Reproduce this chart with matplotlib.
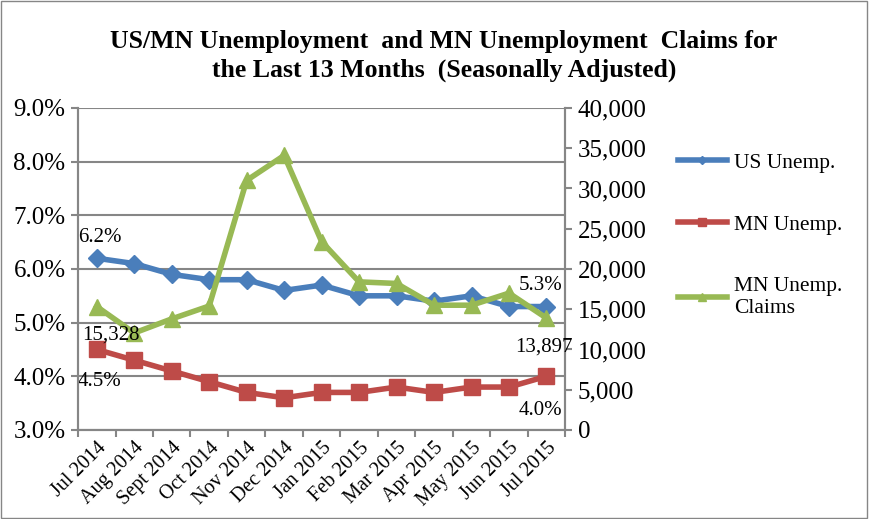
import numpy as np
from matplotlib import pyplot as plt

months = ["Jul 2014", "Aug 2014", "Sept 2014", "Oct 2014", "Nov 2014", "Dec 2014",
          "Jan 2015", "Feb 2015", "Mar 2015", "Apr 2015", "May 2015", "Jun 2015",
          "Jul 2015"]
us_unemp = [6.2, 6.1, 5.9, 5.8, 5.8, 5.6, 5.7, 5.5, 5.5, 5.4, 5.5, 5.3, 5.3]
mn_unemp = [4.5, 4.3, 4.1, 3.9, 3.7, 3.6, 3.7, 3.7, 3.8, 3.7, 3.8, 3.8, 4.0]
mn_claims = [15328, 12050, 13800, 15400, 31000, 34100, 23400, 18400, 18200,
             15500, 15500, 17000, 13897]

plt.rcParams['font.family'] = ['Liberation Serif', 'DejaVu Serif']

blue = "#4a7ebb"
red = "#be4b48"
green = "#98b954"
grid_c = "#868686"

fig = plt.figure(figsize=(8.69, 5.19), dpi=100)
fig.patches.append(plt.Rectangle((0.001, 0.001), 0.997, 0.997, transform=fig.transFigure,
                                 fill=False, edgecolor=grid_c, linewidth=1))
ax = fig.add_axes([0.0898, 0.1715, 0.5606, 0.6205])
ax2 = ax.twinx()

x = np.arange(len(months))
l1, = ax.plot(x, us_unemp, color=blue, linewidth=4, marker="D", markersize=9,
              label="US Unemp.", zorder=3)
l2, = ax.plot(x, mn_unemp, color=red, linewidth=4, marker="s", markersize=11,
              label="MN Unemp.", zorder=3)
l3, = ax2.plot(x, mn_claims, color=green, linewidth=4, marker="^", markersize=11,
               label="MN Unemp.\nClaims", zorder=3)

ax.set_xlim(-0.5, len(months) - 0.5)
ax.set_ylim(3.0, 9.0)
ax2.set_ylim(0, 40000)
ax.set_yticks(np.arange(3.0, 9.01, 1.0))
ax.set_yticklabels(["{:.1f}%".format(v) for v in np.arange(3.0, 9.01, 1.0)], fontsize=18)
ax2.set_yticks(np.arange(0, 40001, 5000))
ax2.set_yticklabels(["{:,}".format(v) for v in range(0, 40001, 5000)], fontsize=18)
ax.set_xticks(x)
ax.set_xticklabels(months, rotation=45, ha="right", rotation_mode="anchor", fontsize=14.5)
ax.set_xticks(np.arange(-0.5, len(months), 1.0), minor=True)
ax.tick_params(axis="x", which="major", length=0, pad=6)
ax.tick_params(axis="x", which="minor", length=5, color=grid_c, width=1.5)
ax.tick_params(axis="y", length=5, color=grid_c, width=1.5, pad=4)
ax2.tick_params(axis="y", length=5, color=grid_c, width=1.5, pad=4)
ax.grid(axis="y", color=grid_c, linewidth=1.5)
for a in (ax, ax2):
    for s in a.spines.values():
        s.set_color(grid_c)
        s.set_linewidth(1.5)
    a.spines["top"].set_visible(False)

# data labels at the ends
lab = dict(textcoords="offset points", ha="center", fontsize=15)
ax.annotate("6.2%", (x[0], us_unemp[0]), xytext=(2, 12), **lab)
ax.annotate("5.3%", (x[-1], us_unemp[-1]), xytext=(-4, 12), **lab)
ax.annotate("4.5%", (x[0], mn_unemp[0]), xytext=(2, -26), **lab)
ax.annotate("4.0%", (x[-1], mn_unemp[-1]), xytext=(-4, -28), **lab)
ax2.annotate("15,328", (x[0], mn_claims[0]), xytext=(10, -24), **lab)
ax2.annotate("13,897", (x[-1], mn_claims[-1]), xytext=(-2, -24), **lab)

fig.text(0.511, 0.892, "US/MN Unemployment  and MN Unemployment  Claims for\nthe Last 13 Months  (Seasonally Adjusted)",
         ha="center", va="center", fontsize=18.5, fontweight="bold", linespacing=1.35)

leg = fig.legend(handles=[l1, l2, l3], loc="upper left", bbox_to_anchor=(0.77, 0.722),
                 frameon=False, fontsize=15.5, handlelength=2.3, labelspacing=1.95,
                 markerscale=0.5, handletextpad=0.3, borderaxespad=0)

fig.savefig("out.png", dpi=100)
